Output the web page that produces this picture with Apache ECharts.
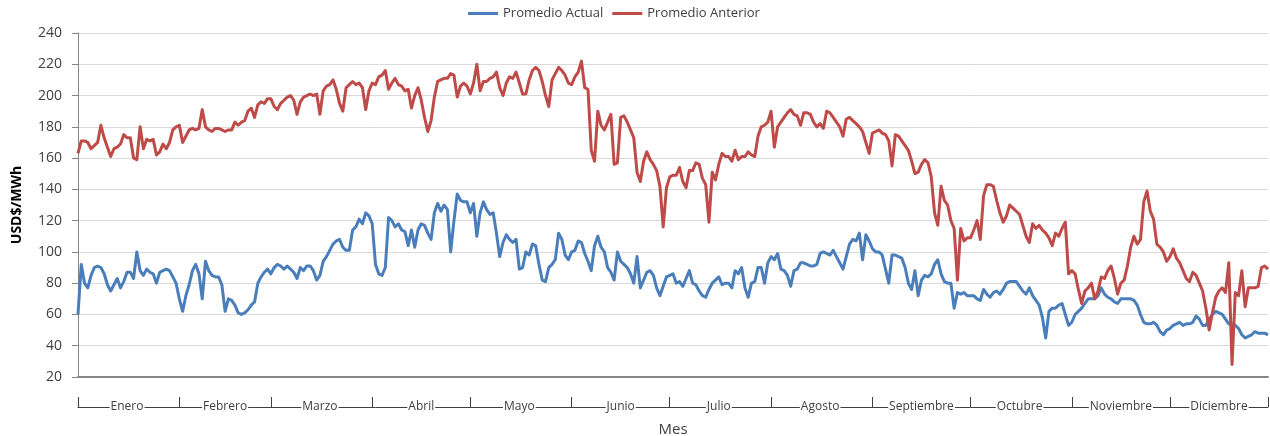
<!DOCTYPE html>
<html>
<head>
<meta charset="utf-8">
<title>Promedio Actual vs Anterior</title>
<script src="https://cdn.jsdelivr.net/npm/echarts@6/dist/echarts.min.js"></script>
<style>
  html, body { margin: 0; padding: 0; background: #fff; }
  #chart { width: 1270px; height: 436px; }
</style>
</head>
<body>
<div id="chart"></div>
<script>
var months = ['Enero', 'Febrero', 'Marzo', 'Abril', 'Mayo', 'Junio', 'Julio', 'Agosto', 'Septiembre', 'Octubre', 'Noviembre', 'Diciembre'];
var daysInMonth = [31, 28, 31, 30, 31, 30, 31, 31, 30, 31, 30, 31];
var yMin = 20, yMax = 240, yStep = 20;

// daily values, one line per month
var actual = [
  60,92,80,77,85,90,91,90,86,79,75,79,83,77,81,87,87,83,100,88,85,89,87,86,80,87,88,89,88,84,80,
  70,62,72,79,88,92,86,70,94,88,85,84,84,79,62,70,69,66,61,60,61,63,66,68,80,84,87,89,
  86,90,92,91,89,91,89,87,83,90,88,91,91,88,82,85,94,97,101,105,107,108,103,101,101,114,116,121,118,125,123,
  118,92,86,85,90,122,120,116,118,114,113,104,114,103,114,118,117,112,108,125,131,126,130,127,100,120,137,133,132,132,
  125,131,110,125,132,127,124,125,112,97,106,111,108,106,108,89,90,100,98,105,104,92,82,81,90,92,95,112,108,98,95,
  100,101,107,106,99,94,88,104,110,103,100,90,87,82,100,94,92,90,86,80,97,77,82,87,88,85,77,72,78,84,
  85,86,80,81,78,83,88,80,79,75,72,71,76,80,82,84,79,80,80,77,88,86,90,77,71,80,81,90,90,80,93,
  97,95,99,89,88,85,78,88,89,93,93,92,91,91,92,99,100,99,98,101,97,93,89,97,105,108,107,112,95,111,107,
  102,100,100,98,89,80,98,98,97,96,90,80,76,88,72,82,85,84,86,92,95,86,81,80,80,64,74,73,74,72,
  72,72,70,69,76,73,71,74,75,73,76,80,81,81,81,78,75,73,77,72,69,66,58,45,62,64,64,66,67,60,53,
  55,60,62,64,67,70,70,70,72,77,73,71,70,68,67,70,70,70,70,69,66,60,55,54,54,55,53,49,47,50,
  51,53,54,55,53,54,54,55,59,57,53,53,57,60,62,61,60,57,54,54,53,51,47,45,46,47,49,48,48,48,47
];

var anterior = [
  163,171,171,170,166,168,170,181,173,167,161,166,167,169,175,173,173,160,159,180,166,172,171,172,162,164,169,166,170,178,180,
  181,170,174,178,179,178,179,191,180,178,177,179,179,178,177,178,178,183,181,183,184,190,192,186,194,196,195,198,
  198,193,191,195,197,199,200,197,188,196,199,200,201,200,201,188,203,206,207,210,204,195,190,205,207,209,207,208,205,191,203,
  208,207,212,213,216,204,208,211,207,206,203,204,192,200,205,197,186,177,184,199,209,210,211,211,214,213,199,206,208,206,
  201,208,220,203,209,209,211,212,215,205,200,208,212,211,215,208,201,201,210,216,218,216,209,200,193,210,214,218,216,213,208,
  207,212,215,222,205,204,165,158,190,181,178,183,188,156,157,186,187,183,178,173,151,145,158,164,159,156,152,142,116,141,
  148,149,149,154,145,141,152,152,157,156,147,143,119,151,146,156,163,161,161,158,165,159,161,161,164,162,161,174,180,181,183,
  190,167,180,183,186,189,191,188,187,181,189,189,188,183,180,182,179,190,189,186,183,180,174,185,186,184,182,180,177,170,163,
  176,177,178,176,175,171,155,175,174,171,168,165,158,150,151,156,159,157,148,125,117,142,133,130,120,115,82,115,107,109,
  109,114,120,108,136,143,143,142,133,125,119,123,130,128,126,124,117,110,106,118,115,117,114,112,109,104,112,110,115,119,86,
  88,86,76,67,75,77,80,70,75,84,83,88,91,83,73,80,82,91,103,110,105,108,132,139,126,121,105,103,100,94,
  97,102,96,93,88,83,81,87,85,80,75,64,50,61,71,75,77,74,93,28,74,72,88,65,77,77,77,78,90,91,89
];

// day categories + where each month starts / sits in the middle
var days = [];
var monthStart = [];
var monthMid = [];
var n = 0;
months.forEach(function (m, i) {
  monthStart.push(n);
  monthMid.push(n + Math.floor(daysInMonth[i] / 2));
  for (var d = 1; d <= daysInMonth[i]; d++) {
    days.push(d + '/' + (i + 1));
  }
  n += daysInMonth[i];
});
monthStart.push(days.length - 1);

var font = 'Open Sans';
var chart = echarts.init(document.getElementById('chart'));

var option = {
  animation: false,
  textStyle: { fontFamily: font },
  color: ['#4a7ebb', '#be4b48'],
  legend: {
    left: 463,
    top: 2,
    icon: 'rect',
    itemWidth: 30,
    itemHeight: 3,
    itemGap: 9,
    textStyle: { fontSize: 13, color: '#404040', fontFamily: font },
    data: ['Promedio Actual', 'Promedio Anterior']
  },
  grid: {
    left: 78,
    right: 2,
    top: 33,
    bottom: 59,
    outerBoundsMode: 'none'
  },
  xAxis: [
    {
      type: 'category',
      data: days,
      boundaryGap: false,
      axisLine: { lineStyle: { color: '#868686', width: 2 } },
      axisTick: { show: false },
      axisLabel: { show: false },
      splitLine: { show: false }
    },
    {
      type: 'category',
      data: days,
      boundaryGap: false,
      position: 'bottom',
      offset: 30,
      axisLine: { lineStyle: { color: '#404040', width: 1 } },
      axisTick: {
        show: true,
        inside: true,
        length: 10,
        interval: function (idx) { return monthStart.indexOf(idx) >= 0; },
        lineStyle: { color: '#404040', width: 1 }
      },
      axisLabel: {
        interval: function (idx) { return monthMid.indexOf(idx) >= 0; },
        formatter: function (val, idx) { return months[monthMid.indexOf(idx)]; },
        margin: -6,
        fontSize: 12,
        color: '#404040',
        fontFamily: font,
        backgroundColor: '#fff',
        padding: [0, 1]
      },
      name: 'Mes',
      nameLocation: 'middle',
      nameGap: 15,
      nameTextStyle: { fontSize: 15, color: '#404040', fontFamily: font }
    }
  ],
  yAxis: {
    type: 'value',
    min: yMin,
    max: yMax,
    interval: yStep,
    axisLine: { show: true, lineStyle: { color: '#868686', width: 1 } },
    axisTick: { show: true, length: 6, lineStyle: { color: '#868686' } },
    axisLabel: { fontSize: 14, color: '#404040', margin: 16, fontFamily: font },
    splitLine: { lineStyle: { color: '#d9d9d9', width: 1 } },
    name: 'USD$/MWh',
    nameLocation: 'middle',
    nameGap: 54,
    nameTextStyle: { fontSize: 14, fontWeight: 'bold', color: '#000', fontFamily: font }
  },
  series: [
    {
      name: 'Promedio Actual',
      type: 'line',
      data: actual,
      showSymbol: false,
      lineStyle: { width: 3, join: 'round' }
    },
    {
      name: 'Promedio Anterior',
      type: 'line',
      data: anterior,
      showSymbol: false,
      lineStyle: { width: 3, join: 'round' }
    }
  ]
};

chart.setOption(option);
</script>
</body>
</html>
